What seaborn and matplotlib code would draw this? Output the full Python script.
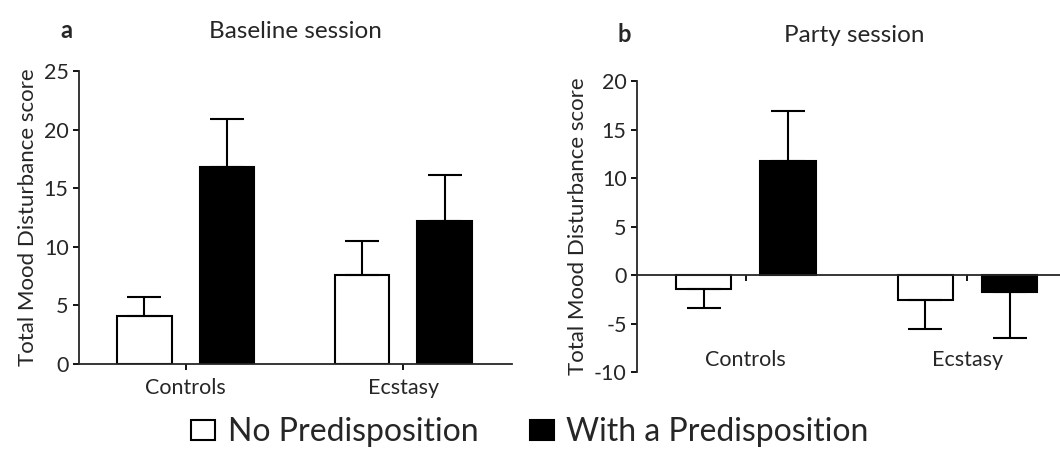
import pandas as pd
import numpy as np
import matplotlib
matplotlib.use('Agg')
import matplotlib.pyplot as plt
import seaborn as sns
from matplotlib.patches import Patch

# values (mean and one-sided SEM)
groups = ['Controls', 'Ecstasy']
levels = ['No Predisposition', 'With a Predisposition']

baseline_no = [4.1, 7.6]
baseline_with = [16.8, 12.2]
baseline_no_err = [1.6, 2.9]
baseline_with_err = [4.1, 3.9]

party_no = [-1.4, -2.6]
party_with = [11.8, -1.7]
party_no_err = [2.0, 3.0]
party_with_err = [5.1, 4.8]

sns.set_style('ticks')
plt.rcParams['font.family'] = ['Lato', 'DejaVu Sans']
plt.rcParams['axes.unicode_minus'] = False

def make_df(no, wi):
    return pd.DataFrame({
        'group': groups * 2,
        'pred': [levels[0]] * 2 + [levels[1]] * 2,
        'score': no + wi,
    })

fig = plt.figure(figsize=(10.6, 4.5), dpi=100)
ax_a = fig.add_axes([0.0745, 0.191, 0.4085, 0.651])
ax_b = fig.add_axes([0.601, 0.173, 0.41, 0.647])

panels = [
    (ax_a, make_df(baseline_no, baseline_with), [baseline_no_err, baseline_with_err], 'Baseline session', 'a'),
    (ax_b, make_df(party_no, party_with), [party_no_err, party_with_err], 'Party session', 'b'),
]

for ax, df, errs, title, letter in panels:
    sns.barplot(data=df, x='group', y='score', hue='pred', hue_order=levels,
                palette={levels[0]: 'white', levels[1]: 'black'},
                edgecolor='black', linewidth=1.5, width=0.76, gap=0.34,
                errorbar=None, legend=False, ax=ax)
    # one-sided error bars, pointing away from zero
    for cont, err, lev in zip(ax.containers, errs, levels):
        vals = df[df['pred'] == lev]['score'].tolist()
        for bar, v, e in zip(cont, vals, err):
            x = bar.get_x() + bar.get_width() / 2
            yerr = [[0], [e]] if v >= 0 else [[e], [0]]
            ax.errorbar(x, v, yerr=yerr, fmt='none', ecolor='black',
                        elinewidth=1.5, capsize=12, capthick=1.5, zorder=1)
    ax.set_xlabel('')
    ax.set_ylabel('Total Mood Disturbance score', fontsize=16)
    sns.despine(ax=ax)
    for s in ['left', 'bottom']:
        ax.spines[s].set_linewidth(1.3)
    ax.tick_params(axis='both', labelsize=15.5, width=1.3, length=4, color='black')

ax_a.set_title('Baseline session', fontsize=17.5, pad=24)
ax_a.text(-0.03, 1.14, 'a', transform=ax_a.transAxes, fontsize=17,
          fontweight='bold', ha='center', va='center')
ax_a.set_ylim(0, 25)
ax_a.set_yticks(range(0, 26, 5))
ax_a.set_xlim(-0.49, 1.5)
ax_a.tick_params(axis='x', pad=6)

ax_b.set_ylim(-10, 20)
ax_b.set_yticks(range(-10, 21, 5))
ax_b.set_xlim(-0.49, 1.47)
ax_b.spines['bottom'].set_position(('data', 0))
ax_b.tick_params(axis='x', pad=50)
ax_b.set_title('Party session', fontsize=17.5, pad=28)
ax_b.text(-0.03, 1.16, 'b', transform=ax_b.transAxes, fontsize=17,
          fontweight='bold', ha='center', va='center')

handles = [Patch(facecolor='white', edgecolor='black', linewidth=1.5),
           Patch(facecolor='black', edgecolor='black', linewidth=1.5)]
fig.legend(handles, levels, loc='center', bbox_to_anchor=(0.5, 0.04), ncol=2,
           frameon=False, fontsize=23, handlelength=0.75, handleheight=0.6,
           handletextpad=0.4, columnspacing=1.6)

fig.savefig('out.png', dpi=100)
